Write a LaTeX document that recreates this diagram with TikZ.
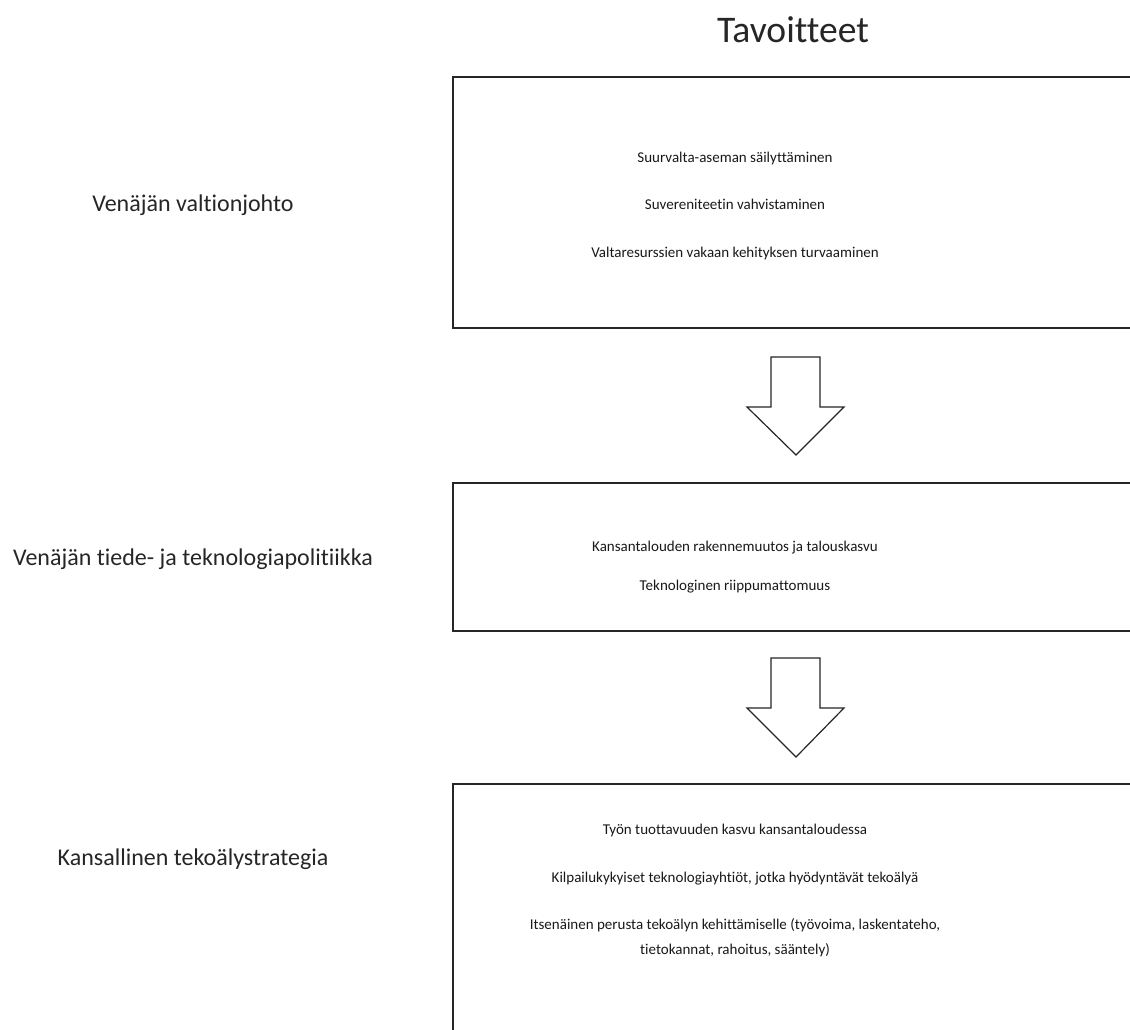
\documentclass[tikz,border=0pt]{standalone}
\usepackage{fontspec}
\setmainfont{Carlito}[Ligatures=CommonOff]
\begin{document}
\begin{tikzpicture}[x=1pt,y=-1pt,
  goalbox/.style={draw=black!85,line width=1.3pt,fill=white},
  blockarrow/.style={draw=black!85,line width=1.2pt,fill=white,line join=miter},
  leveltext/.style={anchor=base,font=\fontsize{24}{29}\selectfont,text=black!85},
  goaltext/.style={anchor=base,font=\fontsize{15}{18}\selectfont,text=black!90,align=center},
  titletext/.style={anchor=base,font=\fontsize{37.6}{44}\selectfont,text=black!85}]
\useasboundingbox (0,0) rectangle (1130,1029);
\clip (0,0) rectangle (1130,1029);
\fill[white] (0,0) rectangle (1130,1029);

% heading
\node[titletext] (title) at (793,42) {Tavoitteet};

% level labels
\node[leveltext] (lvlA) at (193,211) {Venäjän valtionjohto};
\node[leveltext] (lvlB) at (193,565) {Venäjän tiede- ja teknologiapolitiikka};
\node[leveltext] (lvlC) at (193,865) {Kansallinen tekoälystrategia};

% goal boxes
\draw[goalbox] (453,77) rectangle (1145,328);
\draw[goalbox] (453,483) rectangle (1145,631);
\draw[goalbox] (453,784) rectangle (1145,1045);

% goals of the state leadership
\node[goaltext] (a1) at (735,162) {Suurvalta-aseman säilyttäminen};
\node[goaltext] (a2) at (735,209) {Suvereniteetin vahvistaminen};
\node[goaltext] (a3) at (735,257) {Valtaresurssien vakaan kehityksen turvaaminen};

% goals of science and technology policy
\node[goaltext] (b1) at (735,551) {Kansantalouden rakennemuutos ja talouskasvu};
\node[goaltext] (b2) at (735,590) {Teknologinen riippumattomuus};

% goals of the AI strategy
\node[goaltext] (c1) at (735,834) {Työn tuottavuuden kasvu kansantaloudessa};
\node[goaltext] (c2) at (735,882) {Kilpailukykyiset teknologiayhtiöt, jotka hyödyntävät tekoälyä};
\node[goaltext] (c3) at (735,929) {Itsenäinen perusta tekoälyn kehittämiselle (työvoima, laskentateho,};
\node[goaltext] (c4) at (735,954) {tietokannat, rahoitus, sääntely)};

% block arrows between the levels
\draw[blockarrow] (771,357) -- (820,357) -- (820,407) -- (844,407) -- (796,455)
  -- (747,407) -- (771,407) -- cycle;
\draw[blockarrow] (771,658) -- (820,658) -- (820,708) -- (844,708) -- (796,757)
  -- (747,708) -- (771,708) -- cycle;
\end{tikzpicture}
\end{document}
